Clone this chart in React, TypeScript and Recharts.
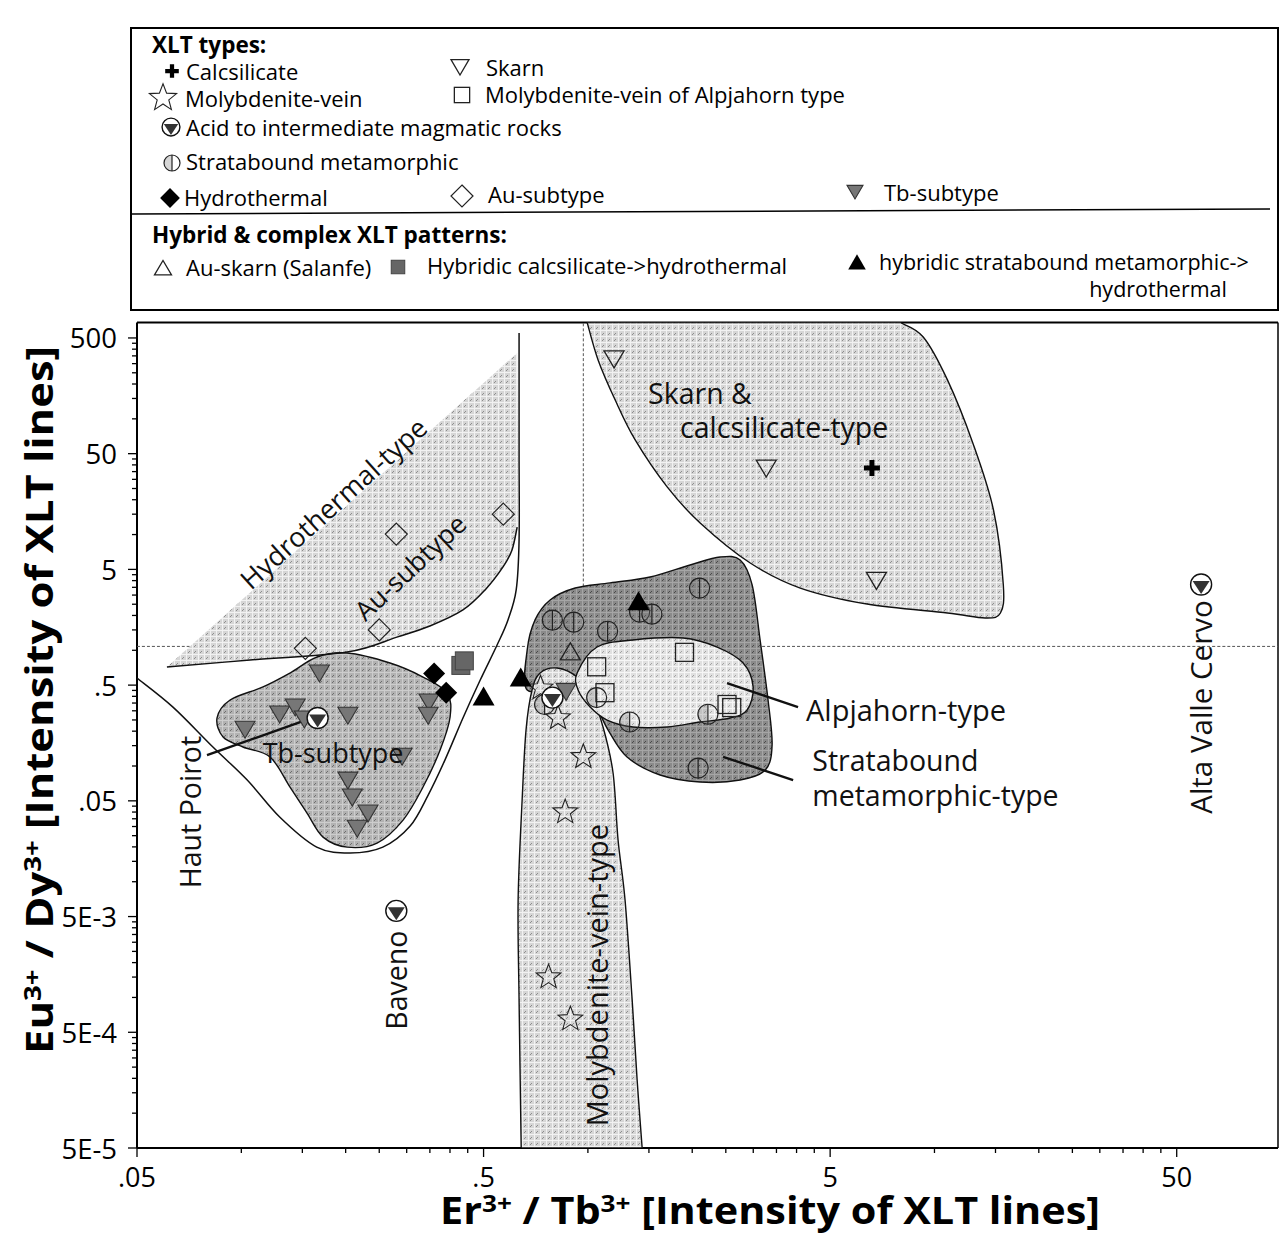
import { Scatter, ScatterChart, XAxis, YAxis } from "recharts"

const FONT = '"Open Sans", "Noto Sans", sans-serif'

// ---- axes ----
const X_DOMAIN = [0.05, 98]
const Y_DOMAIN = [5e-5, 680]
const X_MAJOR = [0.05, 0.5, 5, 50]
const X_MAJOR_LABELS = [".05", ".5", "5", "50"]
const Y_MAJOR = [5e-5, 5e-4, 5e-3, 0.05, 0.5, 5, 50, 500]
const Y_MAJOR_LABELS = ["5E-5", "5E-4", "5E-3", ".05", ".5", "5", "50", "500"]
const MINOR_STEPS = [2, 3, 4, 5, 6, 7, 8, 9]

// ---- fields (outlines, data units) ----
const HYDRO_FIELD = [
  { x: 0.061, y: 0.717 }, { x: 0.061, y: 0.717 },
  { x: 0.625, y: 371 }, { x: 0.625, y: 371 },
  { x: 0.629, y: 29.6 }, { x: 0.625, y: 11.6 }, { x: 0.604, y: 7.36 },
  { x: 0.569, y: 5.25 }, { x: 0.505, y: 3.32 }, { x: 0.436, y: 2.23 },
  { x: 0.35, y: 1.62 }, { x: 0.281, y: 1.3 }, { x: 0.202, y: 0.966 },
  { x: 0.106, y: 0.824 },
]
const AU_CURVE = [
  { x: 0.625, y: 11.6 }, { x: 0.604, y: 7.36 }, { x: 0.569, y: 5.25 },
  { x: 0.505, y: 3.32 }, { x: 0.436, y: 2.23 }, { x: 0.35, y: 1.62 },
  { x: 0.281, y: 1.3 }, { x: 0.202, y: 0.966 }, { x: 0.106, y: 0.824 },
  { x: 0.061, y: 0.717 },
]
const ENVELOPE = [
  { x: 0.633, y: 552 }, { x: 0.633, y: 53.8 }, { x: 0.633, y: 8.98 },
  { x: 0.621, y: 3.32 }, { x: 0.588, y: 1.83 }, { x: 0.547, y: 1.11 },
  { x: 0.489, y: 0.553 }, { x: 0.436, y: 0.26 }, { x: 0.387, y: 0.113 },
  { x: 0.346, y: 0.0561 }, { x: 0.307, y: 0.0303 }, { x: 0.256, y: 0.0199 },
  { x: 0.206, y: 0.0177 }, { x: 0.165, y: 0.0199 }, { x: 0.129, y: 0.0362 },
  { x: 0.104, y: 0.0756 }, { x: 0.0828, y: 0.146 }, { x: 0.0635, y: 0.323 },
  { x: 0.05, y: 0.576 },
]
const SKARN_FIELD = [
  { x: 0.995, y: 680 }, { x: 0.995, y: 680 },
  { x: 1.07, y: 323 }, { x: 1.198, y: 146 }, { x: 1.369, y: 65.7 },
  { x: 1.693, y: 25.8 }, { x: 2.108, y: 12.6 }, { x: 2.94, y: 5.68 },
  { x: 4.1, y: 3.45 }, { x: 6.39, y: 2.51 }, { x: 10.9, y: 2.1 },
  { x: 14.0, y: 1.9 }, { x: 15.5, y: 2.1 }, { x: 15.8, y: 3.67 },
  { x: 14.8, y: 16.3 }, { x: 12.9, y: 61.9 }, { x: 10.9, y: 217 },
  { x: 9.28, y: 510 },
  { x: 7.96, y: 680 }, { x: 7.96, y: 680 },
]
const TB_FIELD = [
  { x: 0.0851, y: 0.26 }, { x: 0.0928, y: 0.372 }, { x: 0.1155, y: 0.482 },
  { x: 0.1382, y: 0.636 }, { x: 0.1654, y: 0.875 }, { x: 0.202, y: 0.947 },
  { x: 0.2686, y: 0.776 }, { x: 0.3344, y: 0.587 }, { x: 0.3925, y: 0.427 },
  { x: 0.4003, y: 0.265 }, { x: 0.3746, y: 0.1374 }, { x: 0.3344, y: 0.0658 },
  { x: 0.2929, y: 0.0341 }, { x: 0.2464, y: 0.0216 }, { x: 0.202, y: 0.0199 },
  { x: 0.1721, y: 0.0243 }, { x: 0.1547, y: 0.0392 }, { x: 0.1382, y: 0.0658 },
  { x: 0.121, y: 0.1196 }, { x: 0.1011, y: 0.146 }, { x: 0.0886, y: 0.178 },
]
const STRAT_FIELD = [
  { x: 0.668, y: 0.4535 }, { x: 0.668, y: 1.006 }, { x: 0.704, y: 1.83 },
  { x: 0.778, y: 2.72 }, { x: 0.919, y: 3.45 }, { x: 1.159, y: 3.82 },
  { x: 1.512, y: 4.3 }, { x: 1.972, y: 5.46 }, { x: 2.407, y: 6.4 },
  { x: 2.75, y: 6.03 }, { x: 2.978, y: 3.67 }, { x: 3.14, y: 1.227 },
  { x: 3.31, y: 0.372 }, { x: 3.4, y: 0.152 }, { x: 3.25, y: 0.0923 },
  { x: 2.75, y: 0.0756 }, { x: 2.108, y: 0.0727 }, { x: 1.616, y: 0.0836 },
  { x: 1.297, y: 0.1196 }, { x: 1.144, y: 0.2046 }, { x: 1.049, y: 0.3365 },
  { x: 0.95, y: 0.4535 }, { x: 0.831, y: 0.501 },
]
const MO_FIELD = [
  { x: 0.642, y: 5e-5 }, { x: 0.642, y: 5e-5 },
  { x: 0.633, y: 0.000949 }, { x: 0.629, y: 0.00694 }, { x: 0.646, y: 0.0508 },
  { x: 0.663, y: 0.205 }, { x: 0.69, y: 0.4535 }, { x: 0.728, y: 0.636 },
  { x: 0.815, y: 0.703 }, { x: 0.931, y: 0.587 }, { x: 1.028, y: 0.395 },
  { x: 1.106, y: 0.217 }, { x: 1.182, y: 0.087 }, { x: 1.222, y: 0.0229 },
  { x: 1.28, y: 0.00694 }, { x: 1.342, y: 0.000949 }, { x: 1.387, y: 0.000193 },
  { x: 1.434, y: 5e-5 }, { x: 1.434, y: 5e-5 },
]
const ALP_FIELD = [
  { x: 0.931, y: 0.636 }, { x: 1.063, y: 1.067 }, { x: 1.35, y: 1.227 },
  { x: 1.883, y: 1.277 }, { x: 2.36, y: 1.067 }, { x: 2.805, y: 0.776 },
  { x: 2.998, y: 0.4816 }, { x: 2.88, y: 0.3046 }, { x: 2.573, y: 0.26 },
  { x: 2.108, y: 0.24 }, { x: 1.693, y: 0.2173 }, { x: 1.35, y: 0.2173 },
  { x: 1.136, y: 0.2496 }, { x: 1.015, y: 0.3234 }, { x: 0.937, y: 0.4535 },
]
const DASH_H = [{ x: 0.05, y: 1.08 }, { x: 98, y: 1.08 }]
const DASH_V = [{ x: 0.97, y: 1.08 }, { x: 0.97, y: 680 }]
const LEAD_ALP = [{ x: 2.52, y: 0.521 }, { x: 4.04, y: 0.323 }]
const LEAD_STRAT = [{ x: 2.455, y: 0.12 }, { x: 3.91, y: 0.0756 }]
const LEAD_HAUT = [{ x: 0.0796, y: 0.124 }, { x: 0.16, y: 0.26 }]

// ---- samples ----
const CALCSILICATE = [{ x: 6.6, y: 37.6 }]
const SKARN = [{ x: 1.19, y: 336 }, { x: 3.27, y: 38.3 }, { x: 6.8, y: 4.1 }]
const MO_VEIN = [
  { x: 0.73, y: 0.47 }, { x: 0.82, y: 0.26 }, { x: 0.97, y: 0.12 },
  { x: 0.86, y: 0.04 }, { x: 0.77, y: 0.0015 }, { x: 0.89, y: 0.00065 },
]
const MO_ALPJAHORN = [
  { x: 1.06, y: 0.72 }, { x: 1.12, y: 0.43 }, { x: 1.9, y: 0.96 },
  { x: 2.52, y: 0.34 }, { x: 2.6, y: 0.32 },
]
const MAGMATIC = [
  { x: 0.166, y: 0.26 }, { x: 0.28, y: 0.0056 }, { x: 58.8, y: 3.7 }, { x: 0.79, y: 0.39 },
]
const STRATABOUND = [
  { x: 0.79, y: 1.82 }, { x: 0.91, y: 1.75 }, { x: 1.14, y: 1.46 },
  { x: 2.1, y: 3.45 }, { x: 1.41, y: 2.14 }, { x: 1.53, y: 2.05 },
  { x: 1.06, y: 0.39 }, { x: 1.32, y: 0.24 }, { x: 2.22, y: 0.28 },
  { x: 2.08, y: 0.096 }, { x: 0.75, y: 0.34 },
]
const HYDROTHERMAL = [{ x: 0.36, y: 0.63 }, { x: 0.39, y: 0.43 }]
const AU_SUBTYPE = [
  { x: 0.153, y: 1.04 }, { x: 0.25, y: 1.5 }, { x: 0.28, y: 10.1 }, { x: 0.57, y: 15 },
]
const TB_SUBTYPE = [
  { x: 0.168, y: 0.65 }, { x: 0.1025, y: 0.212 }, { x: 0.129, y: 0.287 },
  { x: 0.143, y: 0.33 }, { x: 0.152, y: 0.26 }, { x: 0.203, y: 0.28 },
  { x: 0.348, y: 0.364 }, { x: 0.346, y: 0.28 }, { x: 0.291, y: 0.124 },
  { x: 0.203, y: 0.077 }, { x: 0.209, y: 0.055 }, { x: 0.232, y: 0.04 },
  { x: 0.216, y: 0.0296 }, { x: 0.865, y: 0.45 },
]
const AU_SKARN = [{ x: 0.89, y: 0.95 }]
const HYB_CALC = [{ x: 0.43, y: 0.74 }, { x: 0.44, y: 0.81 }]
const HYB_STRAT = [{ x: 0.5, y: 0.39 }, { x: 0.64, y: 0.57 }, { x: 1.4, y: 2.6 }]

// ---- field names placed on the plot ----
const FIELD_LABELS = [
  { text: "Hydrothermal-type", x: 0.184, y: 18.75 },
  { text: "Au-subtype", x: 0.307, y: 5.25 },
  { text: "Skarn &", x: 1.492, y: 167 },
  { text: "calcsilicate-type", x: 1.845, y: 85.1 },
  { text: "Tb-subtype", x: 0.184, y: 0.132 },
  { text: "Alpjahorn-type", x: 4.26, y: 0.305 },
  { text: "Stratabound", x: 4.44, y: 0.1126 },
  { text: "metamorphic-type", x: 4.44, y: 0.0561 },
  { text: "Haut Poirot", x: 0.0711, y: 0.04 },
  { text: "Baveno", x: 0.2797, y: 0.00141 },
  { text: "Alta Valle Cervo", x: 58.5, y: 0.3234 },
  { text: "Molybdenite-vein-type", x: 1.056, y: 0.00156 },
]
const LABEL_STYLE: Record<string, { size: number; angle: number; anchor: string }> = {
  "Hydrothermal-type": { size: 27, angle: -42, anchor: "middle" },
  "Au-subtype": { size: 26.5, angle: -43, anchor: "middle" },
  "Skarn &": { size: 28.5, angle: 0, anchor: "start" },
  "calcsilicate-type": { size: 28.5, angle: 0, anchor: "start" },
  "Tb-subtype": { size: 27, angle: 0, anchor: "middle" },
  "Alpjahorn-type": { size: 29, angle: 0, anchor: "start" },
  Stratabound: { size: 28.5, angle: 0, anchor: "start" },
  "metamorphic-type": { size: 28.5, angle: 0, anchor: "start" },
  "Haut Poirot": { size: 28.5, angle: -90, anchor: "middle" },
  Baveno: { size: 28.5, angle: -90, anchor: "middle" },
  "Alta Valle Cervo": { size: 29.5, angle: -90, anchor: "middle" },
  "Molybdenite-vein-type": { size: 29, angle: -90, anchor: "middle" },
}

const X_TICKS = X_MAJOR.flatMap((m) => [m, ...MINOR_STEPS.map((k) => m * k)]).filter(
  (v) => v <= X_DOMAIN[1]
)
const Y_TICKS = Y_MAJOR.flatMap((m) => [m, ...MINOR_STEPS.map((k) => m * k)]).filter(
  (v) => v <= Y_DOMAIN[1]
)

const majorIndex = (list: number[], v: number) =>
  list.findIndex((m) => Math.abs(m - v) / m < 1e-6)

type Pt = { x: number; y: number }

const same = (a: Pt, b: Pt) => Math.abs(a.x - b.x) < 0.01 && Math.abs(a.y - b.y) < 0.01

// Catmull-Rom through the points; a repeated point makes a sharp corner
function smoothPath(pts: Pt[], closed: boolean): string {
  const n = pts.length
  if (n < 2) return ""
  const get = (i: number) =>
    closed ? pts[(i + n) % n] : pts[Math.max(0, Math.min(n - 1, i))]
  let d = `M${pts[0].x},${pts[0].y}`
  const segs = closed ? n : n - 1
  for (let i = 0; i < segs; i++) {
    const p1 = get(i)
    const p2 = get(i + 1)
    if (same(p1, p2)) continue
    let p0 = get(i - 1)
    let p3 = get(i + 2)
    if (same(p0, p1)) p0 = p1
    if (same(p3, p2)) p3 = p2
    const c1x = p1.x + (p2.x - p0.x) / 6
    const c1y = p1.y + (p2.y - p0.y) / 6
    const c2x = p2.x - (p3.x - p1.x) / 6
    const c2y = p2.y - (p3.y - p1.y) / 6
    d += ` C${c1x},${c1y} ${c2x},${c2y} ${p2.x},${p2.y}`
  }
  return closed ? d + " Z" : d
}

const noDot = () => <g />

function field(fill: string, stroke = "#111") {
  return (p: any) => (
    <path d={smoothPath(p.points, true)} fill={fill} stroke={stroke} strokeWidth={1.4} />
  )
}
function curve(width = 1.5) {
  return (p: any) => (
    <path d={smoothPath(p.points, false)} fill="none" stroke="#111" strokeWidth={width} />
  )
}
function dashed() {
  return (p: any) => (
    <path
      d={smoothPath(p.points, false)}
      fill="none"
      stroke="#555"
      strokeWidth={1}
      strokeDasharray="3 2"
    />
  )
}

function starPath(cx: number, cy: number, R: number, r: number) {
  let d = ""
  for (let i = 0; i < 10; i++) {
    const a = -Math.PI / 2 + (i * Math.PI) / 5
    const rad = i % 2 === 0 ? R : r
    d += `${i === 0 ? "M" : "L"}${(cx + rad * Math.cos(a)).toFixed(1)},${(cy + rad * Math.sin(a)).toFixed(1)}`
  }
  return d + "Z"
}

type Kind =
  | "calc" | "skarn" | "star" | "alp" | "acid" | "strat"
  | "hydro" | "au" | "tb" | "auskarn" | "hybcalc" | "hybstrat"

function Glyph({ kind, cx, cy, s = 1 }: { kind: Kind; cx: number; cy: number; s?: number }) {
  const k = (v: number) => v * s
  switch (kind) {
    case "calc":
      return (
        <path
          d={`M${cx - k(2.5)},${cy - k(8)}h${k(5)}v${k(5.5)}h${k(5.5)}v${k(5)}h${-k(5.5)}v${k(5.5)}h${-k(5)}v${-k(5.5)}h${-k(5.5)}v${-k(5)}h${k(5.5)}z`}
          fill="#000"
        />
      )
    case "skarn":
      return (
        <path
          d={`M${cx - k(10)},${cy - k(7)}L${cx + k(10)},${cy - k(7)}L${cx},${cy + k(10)}Z`}
          fill="none" stroke="#222" strokeWidth={1.3}
        />
      )
    case "tb":
      return (
        <path
          d={`M${cx - k(10)},${cy - k(7)}L${cx + k(10)},${cy - k(7)}L${cx},${cy + k(10)}Z`}
          fill="#777" stroke="#333" strokeWidth={1.1}
        />
      )
    case "auskarn":
      return (
        <path
          d={`M${cx - k(10)},${cy + k(7)}L${cx + k(10)},${cy + k(7)}L${cx},${cy - k(10)}Z`}
          fill="none" stroke="#222" strokeWidth={1.3}
        />
      )
    case "hybstrat":
      return (
        <path
          d={`M${cx - k(11)},${cy + k(8)}L${cx + k(11)},${cy + k(8)}L${cx},${cy - k(11)}Z`}
          fill="#000"
        />
      )
    case "star":
      return <path d={starPath(cx, cy, k(13), k(5.5))} fill="none" stroke="#222" strokeWidth={1.1} />
    case "alp":
      return (
        <rect x={cx - k(9)} y={cy - k(9)} width={k(18)} height={k(18)} fill="none" stroke="#222" strokeWidth={1.3} />
      )
    case "hybcalc":
      return (
        <rect x={cx - k(9)} y={cy - k(9)} width={k(18)} height={k(18)} fill="#666" stroke="#444" strokeWidth={1} />
      )
    case "hydro":
      return (
        <path d={`M${cx},${cy - k(11)}L${cx + k(11)},${cy}L${cx},${cy + k(11)}L${cx - k(11)},${cy}Z`} fill="#000" />
      )
    case "au":
      return (
        <path
          d={`M${cx},${cy - k(11)}L${cx + k(11)},${cy}L${cx},${cy + k(11)}L${cx - k(11)},${cy}Z`}
          fill="none" stroke="#222" strokeWidth={1.2}
        />
      )
    case "acid":
      return (
        <g>
          <circle cx={cx} cy={cy} r={k(10.5)} fill="#fff" stroke="#111" strokeWidth={1.4} />
          <path d={`M${cx - k(8.5)},${cy - k(3.5)}L${cx + k(8.5)},${cy - k(3.5)}L${cx},${cy + k(9.5)}Z`} fill="#333" />
        </g>
      )
    case "strat":
      return (
        <g>
          <path d={`M${cx},${cy - k(10)}A${k(10)},${k(10)} 0 0 0 ${cx},${cy + k(10)}Z`} fill="rgba(120,120,120,0.3)" />
          <circle cx={cx} cy={cy} r={k(10)} fill="none" stroke="#222" strokeWidth={1.2} />
          <line x1={cx} x2={cx} y1={cy - k(10)} y2={cy + k(10)} stroke="#222" strokeWidth={1.2} />
        </g>
      )
  }
  return null
}

const glyphShape = (kind: Kind) => (p: any) => <Glyph kind={kind} cx={p.cx} cy={p.cy} />

function FieldLabel(p: any) {
  const st = LABEL_STYLE[p.payload.text]
  return (
    <text
      x={p.cx}
      y={p.cy}
      transform={st.angle ? `rotate(${st.angle} ${p.cx} ${p.cy})` : undefined}
      textAnchor={st.anchor}
      dominantBaseline="central"
      fontSize={st.size}
      fontFamily={FONT}
      fill="#111"
    >
      {p.payload.text}
    </text>
  )
}

function XTick(props: any) {
  const { x, y, payload, top } = props
  const i = majorIndex(X_MAJOR, payload.value)
  const dir = top ? -1 : 1
  const len = i >= 0 ? 9 : 5
  return (
    <g>
      <line x1={x} x2={x} y1={y} y2={y + dir * len} stroke="#000" strokeWidth={1.3} />
      {!top && i >= 0 && (
        <text x={x} y={y + 39} textAnchor="middle" fontSize={27} fontFamily={FONT} fill="#000">
          {X_MAJOR_LABELS[i]}
        </text>
      )}
    </g>
  )
}

function YTick(props: any) {
  const { x, y, payload } = props
  const i = majorIndex(Y_MAJOR, payload.value)
  const len = i >= 0 ? 9 : 5
  return (
    <g>
      <line x1={x} x2={x - len} y1={y} y2={y} stroke="#000" strokeWidth={1.3} />
      {i >= 0 && (
        <text x={x - 20} y={y} textAnchor="end" dominantBaseline="central" fontSize={27.5} fontFamily={FONT} fill="#000">
          {Y_MAJOR_LABELS[i]}
        </text>
      )}
    </g>
  )
}

function LegendText({ x, y, children, bold = false, anchor = "start", size }: any) {
  return (
    <text
      x={x}
      y={y}
      dominantBaseline="central"
      textAnchor={anchor}
      fontSize={size ?? (bold ? 22.5 : 22)}
      fontWeight={bold ? 700 : 400}
      fontFamily={FONT}
      fill="#000"
    >
      {children}
    </text>
  )
}

function Overlay() {
  return (
    <svg
      width={1280}
      height={1235}
      style={{ position: "absolute", left: 0, top: 0, pointerEvents: "none" }}
    >
      <rect x={131} y={28} width={1147} height={282} fill="none" stroke="#000" strokeWidth={2} />
      <LegendText x={152} y={44} bold>XLT types:</LegendText>
      <Glyph kind="calc" cx={172} cy={71} s={0.85} />
      <LegendText x={186} y={71}>Calcsilicate</LegendText>
      <Glyph kind="skarn" cx={460} cy={66} s={0.9} />
      <LegendText x={486} y={67}>Skarn</LegendText>
      <Glyph kind="star" cx={163} cy={98} s={1.1} />
      <LegendText x={185} y={98}>Molybdenite-vein</LegendText>
      <Glyph kind="alp" cx={462} cy={95} s={0.85} />
      <LegendText x={485} y={94}>Molybdenite-vein of Alpjahorn type</LegendText>
      <Glyph kind="acid" cx={171} cy={127} s={0.85} />
      <LegendText x={186} y={127}>Acid to intermediate magmatic rocks</LegendText>
      <Glyph kind="strat" cx={172} cy={163} s={0.8} />
      <LegendText x={186} y={161}>Stratabound metamorphic</LegendText>
      <Glyph kind="hydro" cx={170} cy={198} s={0.9} />
      <LegendText x={184} y={197}>Hydrothermal</LegendText>
      <Glyph kind="au" cx={462} cy={196} s={1} />
      <LegendText x={488} y={194}>Au-subtype</LegendText>
      <Glyph kind="tb" cx={855} cy={191} s={0.8} />
      <LegendText x={884} y={192}>Tb-subtype</LegendText>
      <line x1={132} y1={214} x2={1270} y2={209} stroke="#000" strokeWidth={1.5} />
      <LegendText x={152} y={234} bold>Hybrid &amp; complex XLT patterns:</LegendText>
      <Glyph kind="auskarn" cx={163} cy={269} s={0.85} />
      <LegendText x={186} y={267}>Au-skarn (Salanfe)</LegendText>
      <Glyph kind="hybcalc" cx={398} cy={267} s={0.75} />
      <LegendText x={427} y={265}>Hybridic calcsilicate-&gt;hydrothermal</LegendText>
      <Glyph kind="hybstrat" cx={857} cy={263} s={0.8} />
      <LegendText x={879} y={261} size={21.5}>hybridic stratabound metamorphic-&gt;</LegendText>
      <LegendText x={1227} y={288} anchor="end" size={21.5}>hydrothermal</LegendText>

      <text
        x={770}
        y={1224}
        textAnchor="middle"
        fontSize={38}
        fontWeight={700}
        fontFamily={FONT}
        textLength={660}
        lengthAdjust="spacingAndGlyphs"
      >
        Er<tspan dy={-12} fontSize={24}>3+</tspan>
        <tspan dy={12}> / Tb</tspan>
        <tspan dy={-12} fontSize={24}>3+</tspan>
        <tspan dy={12}> [Intensity of XLT lines]</tspan>
      </text>
      <g transform="translate(53,700) rotate(-90)">
        <text
          x={0}
          y={0}
          textAnchor="middle"
          fontSize={38}
          fontWeight={700}
          fontFamily={FONT}
          textLength={708}
          lengthAdjust="spacingAndGlyphs"
        >
          Eu<tspan dy={-12} fontSize={24}>3+</tspan>
          <tspan dy={12}> / Dy</tspan>
          <tspan dy={-12} fontSize={24}>3+</tspan>
          <tspan dy={12}> [Intensity of XLT lines]</tspan>
        </text>
      </g>
    </svg>
  )
}

function Screen({ id, base, line, dot }: { id: string; base: string; line: string; dot: string }) {
  return (
    <pattern id={id} width={6} height={6} patternUnits="userSpaceOnUse">
      <rect width={6} height={6} fill={base} />
      <rect width={6} height={1} fill={line} />
      <rect width={1} height={6} fill={line} />
      <rect x={3} y={3} width={1} height={1} fill={dot} />
      <rect x={2} y={4} width={1} height={1} fill={dot} />
    </pattern>
  )
}

export default function App() {
  return (
    <div
      style={{
        position: "absolute",
        left: 0,
        top: 0,
        width: 1280,
        height: 1235,
        background: "#fff",
        fontFamily: FONT,
      }}
    >
      <ScatterChart width={1280} height={1235} margin={{ top: 312.5, right: 0, bottom: 0, left: 0 }}>
        <defs>
          <Screen id="scrLight" base="#d6d6d6" line="#f2f2f2" dot="#8e8e8e" />
          <Screen id="scrPale" base="#e0e0e0" line="#f6f6f6" dot="#a2a2a2" />
          <Screen id="scrMid" base="#b2b2b2" line="#cdcdcd" dot="#6e6e6e" />
          <Screen id="scrDark" base="#8a8a8a" line="#a6a6a6" dot="#4a4a4a" />
        </defs>
        <XAxis
          dataKey="x"
          type="number"
          scale="log"
          domain={X_DOMAIN}
          allowDataOverflow
          ticks={X_TICKS}
          interval={0}
          height={87}
          tickSize={0}
          tickMargin={0}
          tickLine={false}
          tick={(p: any) => <XTick {...p} />}
          axisLine={{ stroke: "#000", strokeWidth: 2 }}
        />
        <XAxis
          xAxisId="top"
          orientation="top"
          type="number"
          scale="log"
          domain={X_DOMAIN}
          allowDataOverflow
          ticks={X_TICKS}
          interval={0}
          height={10}
          tickSize={0}
          tickMargin={0}
          tickLine={false}
          tick={(p: any) => <XTick {...p} top />}
          axisLine={{ stroke: "#000", strokeWidth: 2 }}
        />
        <YAxis
          dataKey="y"
          type="number"
          scale="log"
          domain={Y_DOMAIN}
          allowDataOverflow
          ticks={Y_TICKS}
          interval={0}
          width={137}
          tickSize={0}
          tickMargin={0}
          tickLine={false}
          tick={(p: any) => <YTick {...p} />}
          axisLine={{ stroke: "#000", strokeWidth: 2 }}
        />
        <YAxis
          yAxisId="right"
          orientation="right"
          type="number"
          scale="log"
          domain={Y_DOMAIN}
          allowDataOverflow
          width={2}
          tick={false}
          tickLine={false}
          axisLine={{ stroke: "#000", strokeWidth: 1.5 }}
        />

        <Scatter data={DASH_H} line={dashed()} shape={noDot} isAnimationActive={false} />
        <Scatter data={DASH_V} line={dashed()} shape={noDot} isAnimationActive={false} />

        <Scatter data={HYDRO_FIELD} line={field("url(#scrLight)", "none")} shape={noDot} isAnimationActive={false} />
        <Scatter data={SKARN_FIELD} line={field("url(#scrLight)")} shape={noDot} isAnimationActive={false} />
        <Scatter data={TB_FIELD} line={field("url(#scrMid)")} shape={noDot} isAnimationActive={false} />
        <Scatter data={STRAT_FIELD} line={field("url(#scrDark)")} shape={noDot} isAnimationActive={false} />
        <Scatter data={MO_FIELD} line={field("url(#scrLight)")} shape={noDot} isAnimationActive={false} />
        <Scatter data={ALP_FIELD} line={field("url(#scrPale)")} shape={noDot} isAnimationActive={false} />

        <Scatter data={ENVELOPE} line={curve(1.5)} shape={noDot} isAnimationActive={false} />
        <Scatter data={AU_CURVE} line={curve(1.5)} shape={noDot} isAnimationActive={false} />
        <Scatter data={LEAD_ALP} line={curve(2.4)} shape={noDot} isAnimationActive={false} />
        <Scatter data={LEAD_STRAT} line={curve(2.4)} shape={noDot} isAnimationActive={false} />
        <Scatter data={LEAD_HAUT} line={curve(2.4)} shape={noDot} isAnimationActive={false} />

        <Scatter data={STRATABOUND} shape={glyphShape("strat")} isAnimationActive={false} />
        <Scatter data={MO_ALPJAHORN} shape={glyphShape("alp")} isAnimationActive={false} />
        <Scatter data={MO_VEIN} shape={glyphShape("star")} isAnimationActive={false} />
        <Scatter data={TB_SUBTYPE} shape={glyphShape("tb")} isAnimationActive={false} />
        <Scatter data={MAGMATIC} shape={glyphShape("acid")} isAnimationActive={false} />
        <Scatter data={HYDROTHERMAL} shape={glyphShape("hydro")} isAnimationActive={false} />
        <Scatter data={AU_SUBTYPE} shape={glyphShape("au")} isAnimationActive={false} />
        <Scatter data={SKARN} shape={glyphShape("skarn")} isAnimationActive={false} />
        <Scatter data={CALCSILICATE} shape={glyphShape("calc")} isAnimationActive={false} />
        <Scatter data={AU_SKARN} shape={glyphShape("auskarn")} isAnimationActive={false} />
        <Scatter data={HYB_CALC} shape={glyphShape("hybcalc")} isAnimationActive={false} />
        <Scatter data={HYB_STRAT} shape={glyphShape("hybstrat")} isAnimationActive={false} />

        <Scatter data={FIELD_LABELS} shape={(p: any) => <FieldLabel {...p} />} isAnimationActive={false} />
      </ScatterChart>
      <Overlay />
    </div>
  )
}
